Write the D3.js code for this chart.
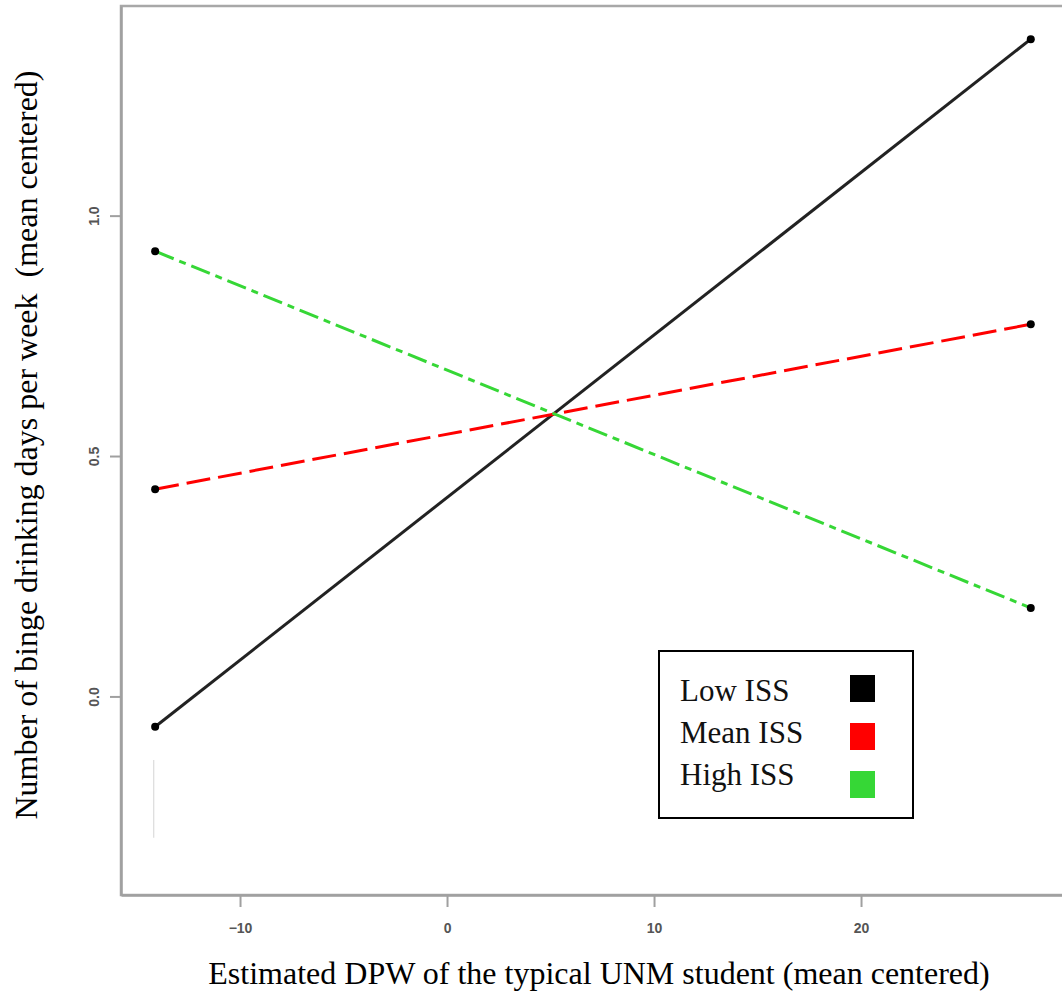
<!DOCTYPE html>
<html>
<head>
<meta charset="utf-8">
<script src="https://cdn.jsdelivr.net/npm/d3@7"></script>
<style>
html,body{margin:0;padding:0;background:#fff;}
svg{display:block;}
</style>
</head>
<body>
<svg id="chart" width="1062" height="997"></svg>
<script>
// ---- data ----
const xValues = [-14.1, 28.2];
const lowISS = [-0.063, 1.367];
const meanISS = [0.431, 0.774];
const highISS = [0.926, 0.184];
const seriesNames = ["Low ISS", "Mean ISS", "High ISS"];
const seriesColors = ["#000000", "#ff0000", "#36d736"];
const xTicks = [-10, 0, 10, 20];
const yTicks = [0.0, 0.5, 1.0];
const faintX = [-14.17];
const faintY = [-0.132, -0.294];
const xTitle = "Estimated DPW of the typical UNM student (mean centered)";
const yTitle = "Number of binge drinking days per week  (mean centered)";

// ---- layout ----
const svg = d3.select("#chart");
const plotL = 121, plotR = 1067, plotT = 6, plotB = 895;
const x = d3.scaleLinear().domain([-15.75, 29.95]).range([plotL, plotR]);
const y = d3.scaleLinear().domain([-0.413, 1.436]).range([plotB, plotT]);

// plot box
svg.append("rect").attr("x", plotL).attr("y", plotT)
  .attr("width", plotR - plotL + 20).attr("height", plotB - plotT)
  .attr("fill", "none").attr("stroke", "#a8a8a8").attr("stroke-width", 2.5);

// axes
const xAxis = svg.append("g").attr("transform", `translate(0,${plotB})`)
  .call(d3.axisBottom(x).tickValues(xTicks).tickSizeInner(12).tickSizeOuter(0).tickPadding(16).tickFormat(d3.format("d")));
const yAxis = svg.append("g").attr("transform", `translate(${plotL},0)`)
  .call(d3.axisLeft(y).tickValues(yTicks).tickSizeInner(11).tickSizeOuter(0).tickFormat(d3.format(".1f")));
[xAxis, yAxis].forEach(g => {
  g.attr("font-size", 14);
  g.select(".domain").attr("stroke", "#a0a0a0").attr("stroke-width", 2.5);
  g.selectAll(".tick line").attr("stroke", "#a0a0a0").attr("stroke-width", 2);
  g.selectAll(".tick text").attr("fill", "#555").attr("font-family", "Liberation Sans, Arial, sans-serif")
    .attr("font-weight", "bold").style("font-size", "14px");
});
yAxis.selectAll(".tick text")
  .attr("x", null).attr("dy", null)
  .attr("text-anchor", "middle")
  .attr("transform", "translate(-27,0) rotate(-90)")
  .attr("dominant-baseline", "central");

// faint segment
svg.append("line")
  .attr("x1", x(faintX[0])).attr("x2", x(faintX[0]))
  .attr("y1", y(faintY[0])).attr("y2", y(faintY[1]))
  .attr("stroke", "#dcdcdc").attr("stroke-width", 1.2);

// lines
const allSeries = [lowISS, meanISS, highISS];
const dashes = [null, "24,8", "20,6,7,6"];
const line = d3.line().x((d, i) => x(xValues[i])).y(d => y(d));
allSeries.forEach((s, k) => {
  svg.append("path").datum(s).attr("d", line)
    .attr("fill", "none")
    .attr("stroke", k === 0 ? "#222" : seriesColors[k])
    .attr("stroke-width", 3)
    .attr("stroke-dasharray", dashes[k]);
});
allSeries.forEach(s => {
  svg.selectAll(null).data(s).enter().append("circle")
    .attr("cx", (d, i) => x(xValues[i])).attr("cy", d => y(d))
    .attr("r", 4).attr("fill", "#000");
});

// axis titles
svg.append("text").attr("x", 599).attr("y", 984)
  .attr("text-anchor", "middle")
  .attr("font-family", "Liberation Serif, Times New Roman, serif")
  .attr("font-size", 32).attr("fill", "#000").text(xTitle);
svg.append("text")
  .attr("transform", "translate(37,445) rotate(-90)")
  .attr("text-anchor", "middle")
  .style("white-space", "pre")
  .attr("font-family", "Liberation Serif, Times New Roman, serif")
  .attr("font-size", 32).attr("fill", "#000").text(yTitle);

// legend
const lg = svg.append("g");
lg.append("rect").attr("x", 659).attr("y", 651).attr("width", 254).attr("height", 167)
  .attr("fill", "#fff").attr("stroke", "#000").attr("stroke-width", 2);
seriesNames.forEach((n, i) => {
  lg.append("text").attr("x", 680).attr("y", 701 + i * 42)
    .attr("font-family", "Liberation Serif, Times New Roman, serif")
    .attr("font-size", 31).attr("fill", "#111").text(n);
  lg.append("rect").attr("x", 850).attr("y", 675 + i * 48).attr("width", 25).attr("height", 27)
    .attr("fill", seriesColors[i]);
});
</script>
</body>
</html>
